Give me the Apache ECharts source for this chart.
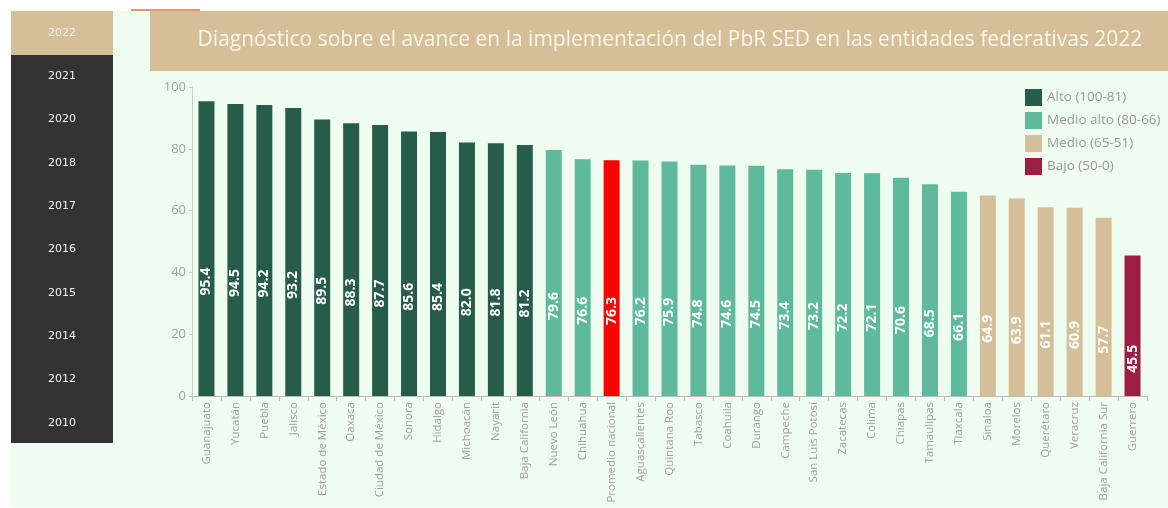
<!DOCTYPE html>
<html>
<head>
<meta charset="utf-8">
<script src="https://cdn.jsdelivr.net/npm/echarts@6/dist/echarts.min.js"></script>
<style>
html,body{margin:0;padding:0;background:#ffffff;}
#c{width:1168px;height:508px;}
</style>
</head>
<body>
<div id="c"></div>
<script>
const categories = ["Guanajuato","Yucatán","Puebla","Jalisco","Estado de México","Oaxaca","Ciudad de México","Sonora","Hidalgo","Michoacán","Nayarit","Baja California","Nuevo León","Chihuahua","Promedio nacional","Aguascalientes","Quintana Roo","Tabasco","Coahuila","Durango","Campeche","San Luis Potosí","Zacatecas","Colima","Chiapas","Tamaulipas","Tlaxcala","Sinaloa","Morelos","Querétaro","Veracruz","Baja California Sur","Guerrero"];
const values = [95.4,94.5,94.2,93.2,89.5,88.3,87.7,85.6,85.4,82.0,81.8,81.2,79.6,76.6,76.3,76.2,75.9,74.8,74.6,74.5,73.4,73.2,72.2,72.1,70.6,68.5,66.1,64.9,63.9,61.1,60.9,57.7,45.5];
// group of each bar: 0 Alto, 1 Medio alto, 2 Medio, 3 Bajo, 4 Promedio nacional
const groups = [0,0,0,0,0,0,0,0,0,0,0,0,1,1,4,1,1,1,1,1,1,1,1,1,1,1,1,2,2,2,2,2,3];
const seriesNames = ["Alto (100-81)","Medio alto (80-66)","Medio (65-51)","Bajo (50-0)","Promedio nacional"];
const seriesColors = ["#275c4a","#5fb99c","#d5bf98","#9c1f43","#ff0000"];
const years = ["2022","2021","2020","2018","2017","2016","2015","2014","2012","2010"];
const titleText = "Diagnóstico sobre el avance en la implementación del PbR SED en las entidades federativas 2022";
const yTicks = {min:0, max:100, interval:20};

const series = seriesNames.map((name, g) => ({
  name: name,
  type: 'bar',
  stack: 'all',
  barWidth: 16,
  itemStyle: {color: seriesColors[g]},
  label: {
    show: true,
    position: 'inside',
    rotate: 90,
    offset: [-33, 0],
    color: '#ffffff',
    fontWeight: 'bold',
    fontSize: 14,
    fontFamily: 'Open Sans',
    formatter: p => Number(p.value).toFixed(1)
  },
  data: values.map((v, i) => groups[i] === g ? v : '-')
}));

const graphics = [];
graphics.push({type:'rect', z:-10, shape:{x:11,y:11,width:1157,height:496}, style:{fill:'#effdf0'}});
graphics.push({type:'rect', z:-9, shape:{x:11,y:11,width:102,height:432}, style:{fill:'#333333'}});
graphics.push({type:'rect', z:-8, shape:{x:11,y:11,width:102,height:44}, style:{fill:'#d5bf98'}});
graphics.push({type:'rect', z:-9, shape:{x:150,y:11,width:1018,height:60}, style:{fill:'#d5bf98'}});
graphics.push({type:'rect', z:-8, shape:{x:131,y:9,width:69,height:2}, style:{fill:'#e8936c'}});
years.forEach((y, i) => {
  graphics.push({type:'text', z:-7, x:62, y:33 + i*43.3,
    style:{text:y, fill:'#f2f2f2', font:'11px "DejaVu Sans"', textAlign:'center', textVerticalAlign:'middle'}});
});

const option = {
  animation: false,
  title: {
    text: titleText,
    left: 665, top: 25, textAlign: 'center',
    textStyle: {color:'#fbf6ee', fontSize: 21, fontWeight: 'normal', fontFamily: 'Open Sans'}
  },
  legend: {
    data: seriesNames.slice(0,4),
    orient: 'vertical',
    left: 1020, top: 84,
    icon: 'rect',
    itemWidth: 17, itemHeight: 17, itemGap: 6,
    textStyle: {color:'#999999', fontSize: 13.5, fontFamily: 'Open Sans'},
    selectedMode: false
  },
  grid: {left: 192, right: 21, top: 87, bottom: 112},
  xAxis: {
    type: 'category',
    data: categories,
    axisLine: {lineStyle:{color:'#bbbbbb'}},
    axisTick: {show:true, length:5, lineStyle:{color:'#bbbbbb'}},
    axisLabel: {rotate: 90, interval: 0, margin: 6, color:'#a0a0a0', fontSize: 11.5, fontFamily: 'Open Sans'}
  },
  yAxis: {
    type: 'value',
    min: yTicks.min, max: yTicks.max, interval: yTicks.interval,
    axisLine: {show:true, lineStyle:{color:'#cccccc'}},
    axisTick: {show:true, length:3, lineStyle:{color:'#cccccc'}},
    splitLine: {show:false},
    axisLabel: {color:'#a0a0a0', fontSize: 13, margin: 6, fontFamily: 'Open Sans'}
  },
  graphic: graphics,
  series: series
};
const chart = echarts.init(document.getElementById('c'), null, {renderer:'canvas'});
chart.setOption(option);
</script>
</body>
</html>
